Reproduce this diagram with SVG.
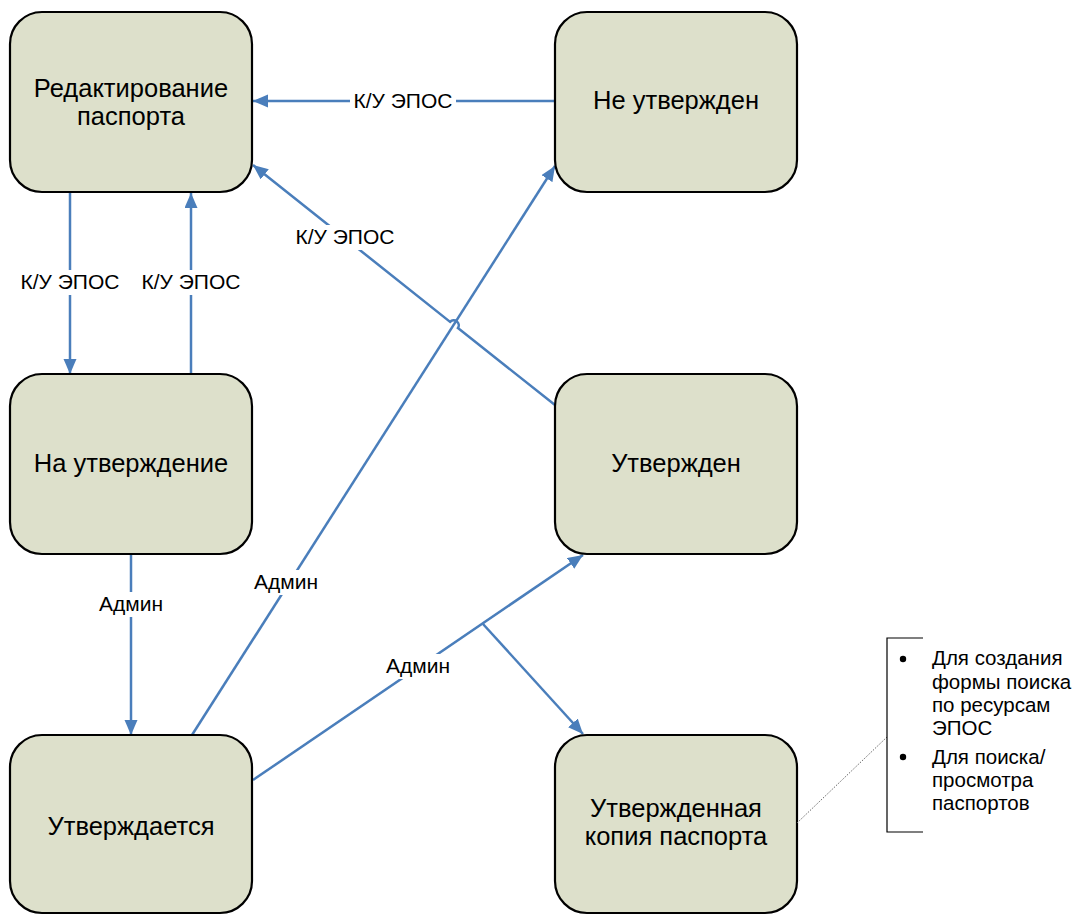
<svg xmlns="http://www.w3.org/2000/svg" width="1082" height="915" viewBox="0 0 1082 915">
<style>
.node{fill:#dde0cb;stroke:#000;stroke-width:2.2}
.nt{font-family:"Liberation Sans",Arial,sans-serif;font-size:25.5px;fill:#000;text-anchor:middle}
.edge{fill:none;stroke:#4a7ebb;stroke-width:2.5}
.lbl{font-family:"Liberation Sans",Arial,sans-serif;font-size:21px;fill:#000;text-anchor:middle}
.bg{fill:#fff}
.ann{font-family:"Liberation Sans",Arial,sans-serif;font-size:20.5px;fill:#000}
</style>
<defs>
<marker id="arr" markerUnits="userSpaceOnUse" markerWidth="16" markerHeight="14" refX="15" refY="6.5" orient="auto">
<path d="M0,0 L15,6.5 L0,13 z" fill="#4a7ebb"/>
</marker>
</defs>
<rect width="1082" height="915" fill="#fff"/>
<g id="connectors">
<path class="edge" d="M555,101 L253,101" marker-end="url(#arr)"/>
<path class="edge" d="M555,405 L457.9,328.1 A5,5 0 0 0 450.1,321.9 L253,165" marker-end="url(#arr)"/>
<path class="edge" d="M70,192 L70,374" marker-end="url(#arr)"/>
<path class="edge" d="M191,374 L191,193" marker-end="url(#arr)"/>
<path class="edge" d="M131,554 L131,735" marker-end="url(#arr)"/>
<path class="edge" d="M192,735 L555,166" marker-end="url(#arr)"/>
<path class="edge" d="M253,780 L583,555" marker-end="url(#arr)"/>
<path class="edge" d="M483,624 L583,734" marker-end="url(#arr)"/>
<rect class="bg" x="350" y="89" width="106" height="25"/>
<text class="lbl" x="403" y="108">К/У ЭПОС</text>
<rect class="bg" x="292" y="225" width="106" height="25"/>
<text class="lbl" x="345" y="244">К/У ЭПОС</text>
<rect class="bg" x="17" y="270" width="106" height="25"/>
<text class="lbl" x="70" y="289">К/У ЭПОС</text>
<rect class="bg" x="138" y="270" width="106" height="25"/>
<text class="lbl" x="191" y="289">К/У ЭПОС</text>
<rect class="bg" x="98" y="592" width="66" height="25"/>
<text class="lbl" x="131" y="611">Админ</text>
<rect class="bg" x="253" y="570" width="66" height="25"/>
<text class="lbl" x="286" y="589">Админ</text>
<rect class="bg" x="385" y="654" width="66" height="25"/>
<text class="lbl" x="418" y="673">Админ</text>
</g>
<g id="n-edit">
<rect class="node" x="10" y="12" width="242" height="180" rx="32"/>
<text class="nt" x="131" y="97">Редактирование</text>
<text class="nt" x="131" y="125">паспорта</text>
</g>
<g id="n-notapproved">
<rect class="node" x="555" y="12" width="242" height="180" rx="32"/>
<text class="nt" x="676" y="109">Не утвержден</text>
</g>
<g id="n-toapprove">
<rect class="node" x="10" y="374" width="242" height="180" rx="32"/>
<text class="nt" x="131" y="472">На утверждение</text>
</g>
<g id="n-approved">
<rect class="node" x="555" y="374" width="242" height="180" rx="32"/>
<text class="nt" x="676" y="472">Утвержден</text>
</g>
<g id="n-approving">
<rect class="node" x="10" y="735" width="242" height="178" rx="32"/>
<text class="nt" x="131" y="835">Утверждается</text>
</g>
<g id="n-copy">
<rect class="node" x="555" y="735" width="242" height="178" rx="32"/>
<text class="nt" x="676" y="817">Утвержденная</text>
<text class="nt" x="676" y="845">копия паспорта</text>
</g>
<g id="annotation">
<path d="M797,823 L887,737" fill="none" stroke="#666" stroke-width="1" stroke-dasharray="1.5,1.5"/>
<path d="M923,638 L887,638 L887,832 L923,832" fill="none" stroke="#000" stroke-width="1.2"/>
<circle cx="903" cy="659" r="3.2" fill="#000"/>
<circle cx="903" cy="757" r="3.2" fill="#000"/>
<text class="ann" x="932" y="665">Для создания</text>
<text class="ann" x="932" y="689">формы поиска</text>
<text class="ann" x="932" y="712">по ресурсам</text>
<text class="ann" x="932" y="735">ЭПОС</text>
<text class="ann" x="932" y="764">Для поиска/</text>
<text class="ann" x="932" y="787">просмотра</text>
<text class="ann" x="932" y="810">паспортов</text>
</g>
</svg>
